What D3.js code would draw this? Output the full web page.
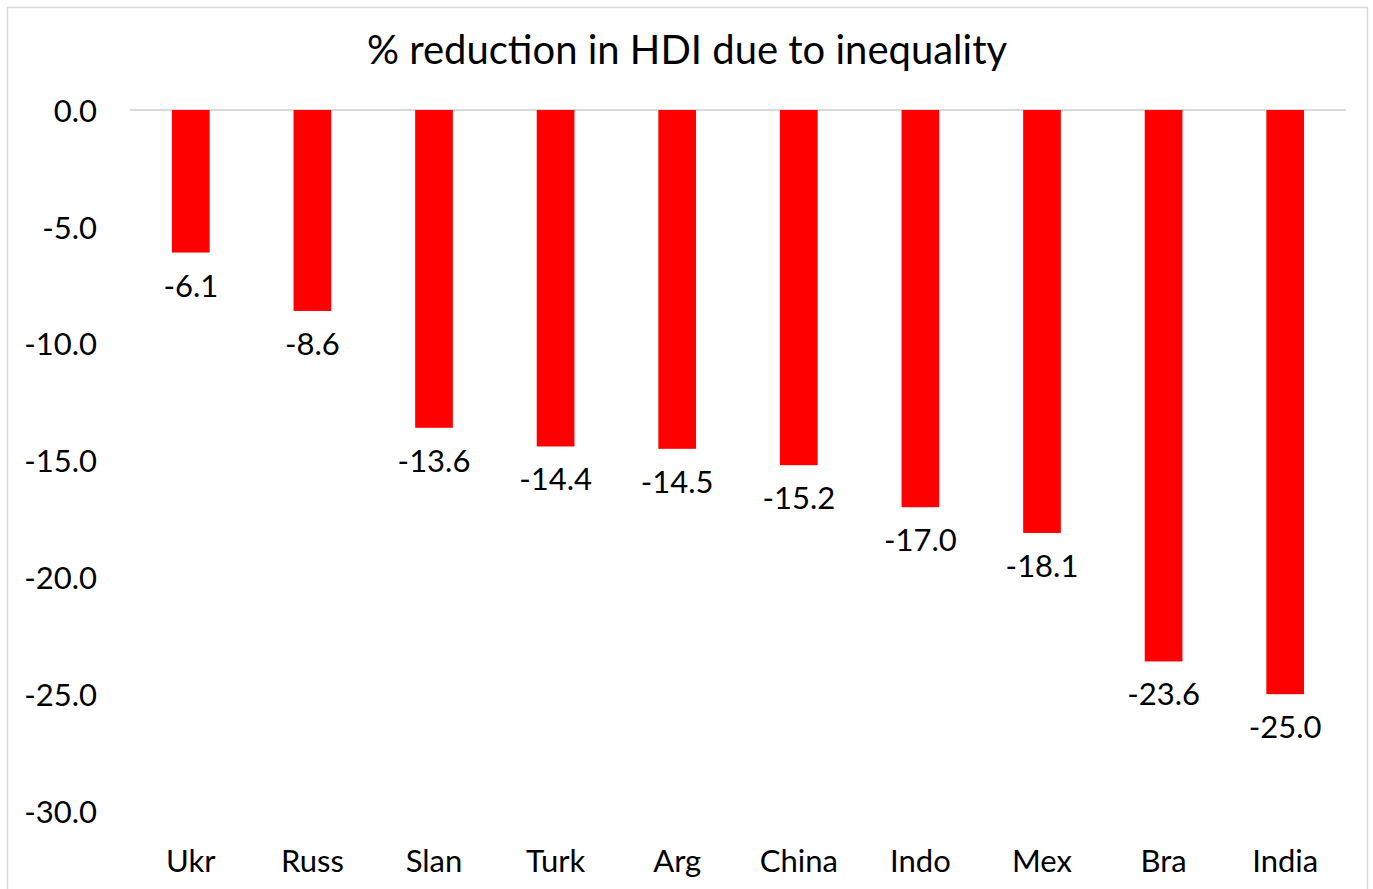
<!DOCTYPE html>
<html>
<head>
<meta charset="utf-8">
<script src="https://cdn.jsdelivr.net/npm/d3@7"></script>
<style>
  body { margin: 0; background: #fff; }
  svg { display: block; font-family: Lato, "Open Sans", sans-serif; }
</style>
</head>
<body>
<div id="chart-area"></div>
<script>
const countries = ["Ukr", "Russ", "Slan", "Turk", "Arg", "China", "Indo", "Mex", "Bra", "India"];
const reductions = [-6.1, -8.6, -13.6, -14.4, -14.5, -15.2, -17.0, -18.1, -23.6, -25.0];
const yTicks = [0, -5, -10, -15, -20, -25, -30];
const title = "% reduction in HDI due to inequality";

const W = 1373, H = 889;
const margin = { top: 110, right: 27, bottom: 78, left: 130 };
const width = W - margin.left - margin.right,
  height = 811 - margin.top;

const fmt = d => d3.format(".1f")(d).replace("−", "-");

const svg = d3
  .select("#chart-area")
  .append("svg")
  .attr("width", W)
  .attr("height", H);

// chart frame
svg
  .append("rect")
  .attr("x", 7.5)
  .attr("y", 7.5)
  .attr("width", 1360)
  .attr("height", 900)
  .attr("fill", "none")
  .attr("stroke", "#d9d9d9")
  .attr("stroke-width", 1.5);

svg
  .append("text")
  .attr("x", 687)
  .attr("y", 64)
  .attr("text-anchor", "middle")
  .attr("font-size", "40px")
  .attr("fill", "#000")
  .text(title);

const g = svg
  .append("g")
  .attr("transform", "translate(" + margin.left + "," + margin.top + ")");

// Scales
const xScale = d3.scaleBand().domain(countries).range([0, width]).paddingInner(0.69).paddingOuter(0.345);
const yScale = d3.scaleLinear().domain([0, -30]).range([0, height]);

// Y axis (labels only)
const yAxis = g
  .append("g")
  .attr("class", "y axis")
  .call(d3.axisLeft(yScale).tickValues(yTicks).tickFormat(fmt).tickSize(0).tickPadding(33));
yAxis.select(".domain").remove();
yAxis
  .selectAll("text")
  .attr("font-size", "31px")
  .attr("font-family", "Lato, sans-serif")
  .attr("fill", "#000")
  .attr("dy", "0.36em");

// zero line
g.append("line")
  .attr("x1", 0)
  .attr("x2", width)
  .attr("y1", yScale(0))
  .attr("y2", yScale(0))
  .attr("stroke", "#d9d9d9")
  .attr("stroke-width", 2);

// bars
g.selectAll("rect.bar")
  .data(reductions)
  .enter()
  .append("rect")
  .attr("class", "bar")
  .attr("x", (d, i) => xScale(countries[i]))
  .attr("y", yScale(0))
  .attr("width", xScale.bandwidth())
  .attr("height", d => yScale(d) - yScale(0))
  .attr("fill", "#ff0000");

// value labels
g.selectAll("text.val")
  .data(reductions)
  .enter()
  .append("text")
  .attr("class", "val")
  .attr("x", (d, i) => xScale(countries[i]) + xScale.bandwidth() / 2)
  .attr("y", d => yScale(d) + 44)
  .attr("text-anchor", "middle")
  .attr("font-size", "31px")
  .attr("fill", "#000")
  .text(fmt);

// category labels
g.selectAll("text.cat")
  .data(countries)
  .enter()
  .append("text")
  .attr("class", "cat")
  .attr("x", d => xScale(d) + xScale.bandwidth() / 2)
  .attr("y", 872 - margin.top)
  .attr("text-anchor", "middle")
  .attr("font-size", "31px")
  .attr("fill", "#000")
  .text(d => d);
</script>
</body>
</html>
